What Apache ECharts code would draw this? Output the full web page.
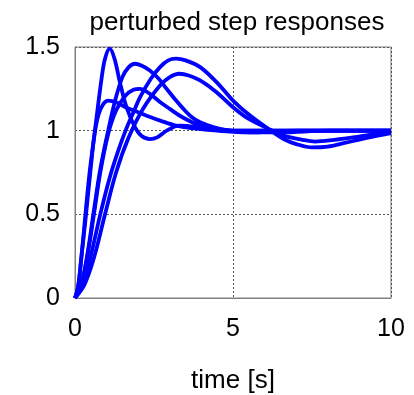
<!DOCTYPE html>
<html>
<head>
<meta charset="utf-8">
<script src="https://cdn.jsdelivr.net/npm/echarts@6/dist/echarts.min.js"></script>
<style>
html,body{margin:0;padding:0;background:#fff;}
#chart{width:414px;height:395px;}
</style>
</head>
<body>
<div id="chart"></div>
<script>
var titleText = "perturbed step responses";
var xName = "time [s]";

var tA = [0,0.1,0.2,0.33,0.45,0.63,0.84,0.95,1.1,1.25,1.42,1.63,1.9,2.1,2.37,2.6,2.9,3.3,4,5,6,8,10];
var yA = [0,0.07,0.24,0.5,0.73,1.0,1.31,1.43,1.49,1.43,1.29,1.14,1.02,0.97,0.95,0.96,1.0,1.03,1.02,1.0,1.0,1.0,1.0];

var tB = [0,0.2,0.4,0.58,0.8,1.05,1.27,1.5,1.7,1.9,2.1,2.37,2.65,2.9,3.2,3.43,3.7,3.96,4.4,4.9,5.5,6.5,8,10];
var yB = [0,0.08,0.27,0.5,0.77,1.0,1.18,1.32,1.38,1.40,1.39,1.36,1.31,1.25,1.18,1.13,1.08,1.05,1.02,1.0,0.99,0.99,1.0,1.0];

var tC = [0,0.3,0.5,0.8,1.1,1.35,1.6,1.85,2.06,2.4,2.69,2.95,3.2,3.5,3.96,4.48,5.0,5.54,6.2,6.6,7.0,7.5,8.0,8.5,9.2,10];
var yC = [0,0.1,0.25,0.5,0.72,0.87,1.0,1.11,1.2,1.31,1.38,1.42,1.43,1.42,1.38,1.29,1.18,1.09,1.0,0.95,0.92,0.90,0.905,0.925,0.955,0.985];

var tD = [0,0.3,0.6,0.95,1.3,1.7,2.15,2.69,3.0,3.3,3.6,3.96,4.48,5.0,5.5,6.25,6.6,7.2,7.6,8.2,8.8,9.5,10];
var yD = [0,0.08,0.24,0.5,0.75,0.96,1.13,1.27,1.32,1.34,1.33,1.3,1.23,1.14,1.07,1.0,0.97,0.945,0.935,0.945,0.96,0.98,0.99];

var tE = [0,0.1,0.2,0.35,0.5,0.62,0.75,0.9,1.05,1.3,1.6,2.0,2.4,2.7,3.2,3.7,4.5,5.5,7,10];
var yE = [0,0.07,0.24,0.5,0.78,0.98,1.1,1.16,1.18,1.17,1.14,1.11,1.08,1.06,1.03,1.015,1.0,0.99,1.0,1.0];

var tF = [0,0.2,0.4,0.6,0.8,1.05,1.3,1.6,1.85,2.05,2.37,2.7,3.0,3.4,3.96,4.5,5,6,8,10];
var yF = [0,0.08,0.26,0.5,0.75,0.98,1.12,1.21,1.245,1.25,1.22,1.17,1.13,1.08,1.03,1.01,1.0,1.0,1.0,1.0];

var curves = [[tA,yA],[tB,yB],[tC,yC],[tD,yD],[tE,yE],[tF,yF]];

function pairs(t, y){ var out=[]; for(var i=0;i<t.length;i++){ out.push([t[i], y[i]]); } return out; }

var FONT = "Liberation Sans";
var chart = echarts.init(document.getElementById('chart'), null, {renderer:'canvas'});
var series = curves.map(function(c){
  return {
    type:'line', data:pairs(c[0], c[1]), smooth:0.35, showSymbol:false, symbol:'none',
    lineStyle:{color:'#0000ff', width:3.8}, animation:false
  };
});
chart.setOption({
  animation:false,
  title:{
    text:titleText, left:232, top:5, textAlign:'center',
    textStyle:{fontFamily:FONT, fontSize:26, fontWeight:'normal', color:'#000'}
  },
  grid:{left:75, right:23, top:47, bottom:97, containLabel:false, outerBoundsMode:'none',
        show:true, borderColor:'#808080', borderWidth:1, backgroundColor:'transparent'},
  xAxis:{
    type:'value', min:0, max:10, interval:5,
    name:xName, nameLocation:'middle', nameGap:70,
    nameTextStyle:{fontFamily:FONT, fontSize:26, color:'#000'},
    axisLine:{show:true, lineStyle:{color:'#808080', width:1}},
    axisTick:{show:false},
    axisLabel:{fontFamily:FONT, fontSize:25, color:'#000', margin:19},
    splitLine:{show:true, lineStyle:{color:'#555', type:[2,2], width:1}}
  },
  yAxis:{
    type:'value', min:0, max:1.5, interval:0.5,
    axisLine:{show:true, lineStyle:{color:'#808080', width:1}},
    axisTick:{show:false},
    axisLabel:{fontFamily:FONT, fontSize:25, color:'#000', margin:15},
    splitLine:{show:true, lineStyle:{color:'#555', type:[2,2], width:1}}
  },
  series:series
});
</script>
</body>
</html>
